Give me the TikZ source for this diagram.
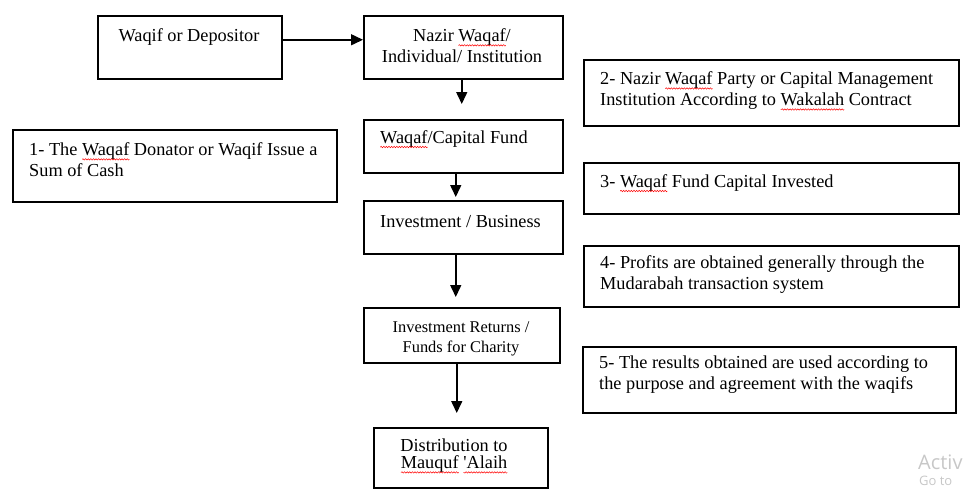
\documentclass[tikz,border=0pt]{standalone}
\usepackage{fontspec}
\setmainfont{Liberation Serif}
\newfontfamily\winfont{Open Sans}
\usetikzlibrary{arrows.meta}
\usetikzlibrary{decorations.pathmorphing}
\usetikzlibrary{positioning}
\newlength\spellwd
\newcommand\spell[1]{\settowidth\spellwd{#1}#1\tikz[overlay]\draw[red, line width=0.5pt, decorate, decoration={snake, amplitude=0.7pt, segment length=2.6pt}] (0pt,-3.5pt) -- (-\spellwd,-3.5pt);}

\begin{document}
\begin{tikzpicture}[x=1pt,y=-1pt]
\tikzstyle{box}=[draw, line width=1.5pt, anchor=north west, inner sep=0pt]
\tikzstyle{txt}=[inner sep=0pt, font=\fontsize{18.3}{21}\selectfont]
\tikzstyle{arr}=[line width=1.5pt, -{Triangle[width=11pt,length=12pt]}]
\useasboundingbox (0,0) rectangle (966,491);
% flow column
\node[box, minimum width=184, minimum height=63] (waqif) at (97,15) {};
\node[box, minimum width=199, minimum height=63] (nazir) at (363,15) {};
\node[box, minimum width=199, minimum height=53] (capital) at (363,119) {};
\node[box, minimum width=199, minimum height=53] (invest) at (363,200) {};
\node[box, minimum width=196, minimum height=55] (returns) at (363,307) {};
\node[box, minimum width=174, minimum height=60] (dist) at (373,427) {};
\node[txt] (waqif-t) at (189,37) {Waqif or Depositor};
\node[txt, align=center] (nazir-t) at (462,46) {Nazir \spell{Waqaf}/\\Individual/ Institution};
\node[txt, anchor=west] (capital-t) at (380,139) {\spell{Waqaf}/Capital Fund};
\node[txt, anchor=west] (invest-t) at (380,222) {Investment / Business};
\node[txt, align=center, font=\fontsize{16.4}{20}\selectfont] (returns-t) at (461,339) {Investment Returns /\\Funds for Charity};
\node[txt, align=center, font=\fontsize{18.3}{17}\selectfont] (dist-t) at (454,456) {Distribution to\\\spell{Mauquf} \spell{\textquotesingle Alaih}};
%\draw (waqif) -- (nazir) -- (capital) -- (invest) -- (returns) -- (dist);
\draw[arr] ([yshift=7.5pt]waqif.east) -- ([yshift=7.5pt]nazir.west);
\draw[arr] ([xshift=-1.5pt]nazir.south) -- ([xshift=-1.5pt,yshift=15pt]capital.north);
\draw[arr] ([xshift=-7.5pt]capital.south) -- ([xshift=-7.5pt,yshift=3pt]invest.north);
\draw[arr] ([xshift=-7.5pt]invest.south) -- ([xshift=-6pt,yshift=10pt]returns.north);
\draw[arr] ([xshift=-5pt]returns.south) -- ([xshift=-4pt,yshift=14pt]dist.north);
% numbered notes
\node[box, minimum width=324, minimum height=72] (note1) at (12,129) {};
\node[box, minimum width=375, minimum height=66] (note2) at (583,59) {};
\node[box, minimum width=375, minimum height=51] (note3) at (583,162) {};
\node[box, minimum width=375, minimum height=61] (note4) at (583,245) {};
\node[box, minimum width=373, minimum height=66] (note5) at (582,346) {};
\node[txt, anchor=west, align=left] (note1-t) at (29,160) {1- The \spell{Waqaf} Donator or Waqif Issue a\\Sum of Cash};
\node[txt, anchor=west, align=left] (note2-t) at (600,91) {2- Nazir \spell{Waqaf} Party or Capital Management\\Institution According to \spell{Wakalah} Contract};
\node[txt, anchor=west] (note3-t) at (600,183) {3- \spell{Waqaf} Fund Capital Invested};
\node[txt, anchor=west, align=left] (note4-t) at (600,275) {4- Profits are obtained generally through the\\Mudarabah transaction system};
\node[txt, anchor=west, align=left] (note5-t) at (599,375) {5- The results obtained are used according to\\the purpose and agreement with the waqifs};
% watermark
\node[anchor=west, inner sep=0pt, text=black!22, font=\winfont\fontsize{20}{20}\selectfont] (act) at (918,462) {Activ};
\node[anchor=west, inner sep=0pt, text=black!22, font=\winfont\fontsize{13}{13}\selectfont] (goto) at (919,481) {Go to};
\end{tikzpicture}
\end{document}
